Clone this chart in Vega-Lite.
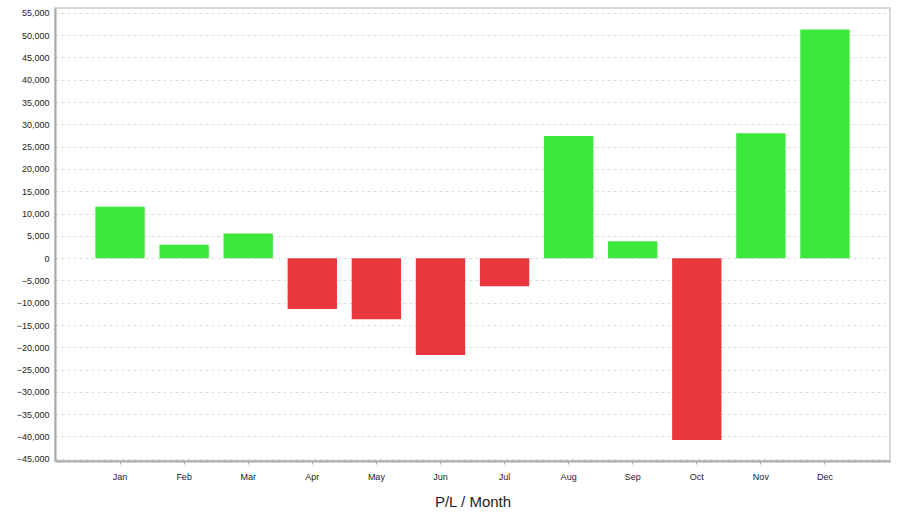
{
  "$schema": "https://vega.github.io/schema/vega-lite/v6.json",
  "autosize": "none",
  "width": 835,
  "height": 453,
  "padding": {"left": 55, "top": 8, "right": 10, "bottom": 58},
  "background": "white",
  "data": {
    "values": [
      {"month": "Jan", "pl": 11500},
      {"month": "Feb", "pl": 3000},
      {"month": "Mar", "pl": 5500},
      {"month": "Apr", "pl": -11400},
      {"month": "May", "pl": -13700},
      {"month": "Jun", "pl": -21700},
      {"month": "Jul", "pl": -6300},
      {"month": "Aug", "pl": 27400},
      {"month": "Sep", "pl": 3800},
      {"month": "Oct", "pl": -40800},
      {"month": "Nov", "pl": 28000},
      {"month": "Dec", "pl": 51300}
    ]
  },
  "mark": {"type": "bar", "stroke": null},
  "encoding": {
    "x": {
      "field": "month",
      "type": "nominal",
      "sort": null,
      "scale": {"paddingInner": 0.23, "paddingOuter": 0.63},
      "axis": {
        "title": "P/L / Month",
        "titleFont": "Liberation Sans",
        "titleFontSize": 15,
        "titleFontWeight": "normal",
        "titleColor": "#222222",
        "titlePadding": 13,
        "labelAngle": 0,
        "labelFont": "Liberation Sans",
        "labelFontSize": 9,
        "labelColor": "#222222",
        "labelPadding": 8,
        "domainColor": "#aaaaaa",
        "domainWidth": 2,
        "tickColor": "#aaaaaa",
        "tickSize": 3,
        "grid": false
      }
    },
    "y": {
      "field": "pl",
      "type": "quantitative",
      "scale": {"domain": [-45500, 56100], "nice": false, "zero": false},
      "axis": {
        "title": null,
        "values": [-45000, -40000, -35000, -30000, -25000, -20000, -15000, -10000, -5000, 0, 5000, 10000, 15000, 20000, 25000, 30000, 35000, 40000, 45000, 50000, 55000],
        "format": ",d",
        "labelFont": "Liberation Sans",
        "labelFontSize": 9,
        "labelColor": "#222222",
        "labelPadding": 6,
        "domainColor": "#aaaaaa",
        "domainWidth": 2,
        "ticks": false,
        "grid": true,
        "gridColor": "#dddddd",
        "gridDash": [3, 3],
        "gridWidth": 1
      }
    },
    "color": {
      "condition": {"test": "datum.pl >= 0", "value": "#3de83d"},
      "value": "#e8383e"
    }
  },
  "config": {
    "view": {"stroke": "#cccccc", "strokeWidth": 1.5}
  }
}
